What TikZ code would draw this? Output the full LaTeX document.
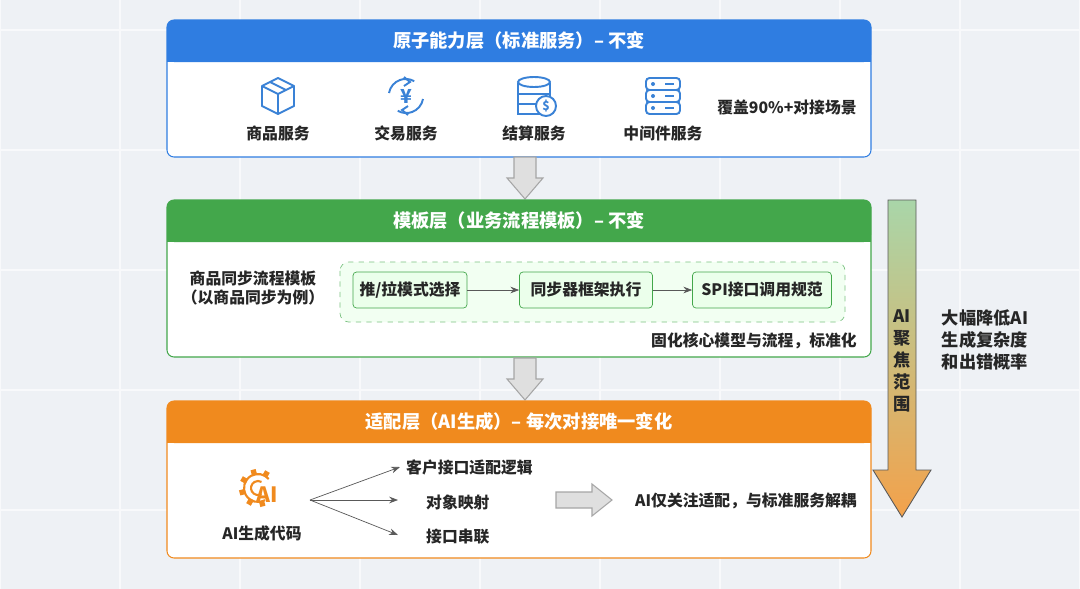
\documentclass[tikz,border=0pt]{standalone}
\usepackage{fontspec}
\setmainfont{Noto Sans CJK SC}
\usetikzlibrary{positioning}
\usetikzlibrary{arrows.meta}
\definecolor{bluehd}{HTML}{2F7DE1}
\definecolor{greenhd}{HTML}{43A74B}
\definecolor{orangehd}{HTML}{F08A1E}
\definecolor{bgcol}{HTML}{EEF1F5}
\definecolor{icon}{HTML}{3A82D6}
\tikzset{
  layer/.style={draw=#1, line width=0.6pt, fill=white, rounded corners=4pt},
  head/.style={text=white, font=\fontsize{10.4}{12}\selectfont\bfseries},
  txt/.style={font=\fontsize{9}{11}\selectfont\bfseries, text=black!85},
  step/.style={draw=greenhd, fill=green!8, rounded corners=2pt, minimum width=#1, minimum height=0.72cm, txt},
  hollow/.style={draw=gray!70, fill=gray!25, line width=0.6pt},
  ico/.style={icon, line width=1.1pt},
}
% down arrow between layers, centred at (#1,#2)
\newcommand{\gapArrow}[2]{\draw[hollow] (#1-11,#2-21) -- (#1+11,#2-21) -- (#1+11,#2) -- (#1+18,#2) -- (#1,#2+21) -- (#1-18,#2) -- (#1-11,#2) -- cycle;}
\begin{document}
\begin{tikzpicture}[x=0.02cm, y=-0.02cm]
\useasboundingbox (0,0) rectangle (1080,589);
\fill[bgcol] (0,0) rectangle (1080,589);
\foreach \gx in {0,120,...,1080} {\draw[white!60!bgcol, line width=0.6pt] (\gx,0) -- (\gx,589);}
\foreach \gy in {30,150,...,589} {\draw[white!60!bgcol, line width=0.6pt] (0,\gy) -- (1080,\gy);}

% atomic layer
\fill[layer=bluehd] (167,20) rectangle (871,157);
\fill[bluehd, rounded corners=4pt] (167,20) rectangle (871,62);
\fill[bluehd] (167,50) rectangle (871,62);
\node[head] (atomhd) at (519,41) {原子能力层（标准服务）– 不变};

% icons
\begin{scope}[shift={(278,96)}]
\draw[ico, line join=round] (-16,-10) -- (0,-18) -- (16,-10) -- (16,10) -- (0,18) -- (-16,10) -- cycle;
\draw[ico, line join=round] (-16,-10) -- (0,-2) -- (16,-10) (0,-2) -- (0,18) (-8,-14) -- (8,-6);
\end{scope}
\begin{scope}[shift={(406,96)}]
\draw[ico] (-17,-3) arc (-170:-60:17);
\draw[ico] (17,3) arc (10:120:17);
\draw[ico] (-2,-19) -- (4,-14) -- (-2,-10);
\draw[ico] (2,19) -- (-4,14) -- (2,10);
\node[text=icon, font=\fontsize{11}{11}\selectfont\bfseries] at (0,0) {¥};
\end{scope}
\begin{scope}[shift={(534,96)}]
\foreach \dy in {-12,-2,8} {\draw[ico, fill=white] (-16,\dy) rectangle (16,\dy+10);}
\draw[ico, fill=white] (0,-14) ellipse (16 and 5);
\draw[ico, fill=white] (12,10) circle (10);
\node[text=icon, font=\fontsize{7}{7}\selectfont\bfseries] at (12,10) {\$};
\end{scope}
\begin{scope}[shift={(663,96)}]
\foreach \dy in {-18,-6,6} {
  \draw[ico, rounded corners=2pt] (-17,\dy) rectangle (17,\dy+12);
  \fill[icon] (-10,\dy+6) circle (2);
  \draw[ico] (2,\dy+6) -- (11,\dy+6);
}
\end{scope}

% nodes
\node[txt] (goods) at (278,133) {商品服务};
\node[txt] (trade) at (406,133) {交易服务};
\node[txt] (settle) at (534,133) {结算服务};
\node[txt] (middle) at (663,133) {中间件服务};
\node[txt] (cover) at (787,107) {覆盖90\%+对接场景};

% template layer
\gapArrow{525}{178}
\fill[layer=greenhd] (167,200) rectangle (871,357);
\fill[greenhd, rounded corners=4pt] (167,200) rectangle (871,242);
\fill[greenhd] (167,230) rectangle (871,242);
\node[head] (tplhd) at (519,221) {模板层（业务流程模板）– 不变};
\draw[greenhd!70, dashed, fill=green!5, rounded corners=5pt] (340,262) rectangle (845,322);
\node[txt, align=center] (sync) at (253,288) {商品同步流程模板\\（以商品同步为例）};
\node[step=2.28cm] (pull) at (410,290) {推/拉模式选择};
\node[step=2.66cm] (exec) at (586,290) {同步器框架执行};
\node[step=2.78cm] (spi) at (762,290) {SPI接口调用规范};
\draw[-{Stealth[length=5pt]}, gray!70!black] (pull) -- (exec);
\draw[-{Stealth[length=5pt]}, gray!70!black] (exec) -- (spi);
\node[txt] (solid) at (754,341) {固化核心模型与流程，标准化};

% adapter layer
\gapArrow{525}{379}
\fill[layer=orangehd] (167,401) rectangle (871,558);
\fill[orangehd, rounded corners=4pt] (167,401) rectangle (871,443);
\fill[orangehd] (167,431) rectangle (871,443);
\node[head] (adphd) at (519,422) {适配层（AI生成）– 每次对接唯一变化};

% gear
\begin{scope}[shift={(258,488)}, orangehd, line width=1.2pt]
\draw (60:14) arc (60:320:14);
\foreach \a in {75,120,165,210,255,300} {\draw[line width=3pt] (\a:13) -- (\a:19);}
\draw (60:7) arc (60:300:7);
\node[text=orangehd, font=\fontsize{12}{12}\selectfont\bfseries] at (9,7) {AI};
\end{scope}
\node[txt] (aicode) at (262,533) {AI生成代码};
\coordinate (fork) at (310,500);
\node[txt, anchor=west] (cust) at (400,467) {客户接口适配逻辑};
\node[txt, anchor=west] (objmap) at (420,502) {对象映射};
\node[txt, anchor=west] (chain) at (420,537) {接口串联};
\coordinate (tipB) at (398,500);
\coordinate (tipC) at (398,535);
\draw[-{Stealth[length=5pt]}, gray!70!black] (fork) -- (cust.west);
\draw[-{Stealth[length=5pt]}, gray!70!black] (fork) -- (tipB);
\draw[-{Stealth[length=5pt]}, gray!70!black] (fork) -- (tipC);
\draw[hollow] (556,492) -- (592,492) -- (592,484) -- (612,500) -- (592,516) -- (592,508) -- (556,508) -- cycle;
\node[txt] (focus) at (746,501) {AI仅关注适配，与标准服务解耦};

% big focus arrow
\shade[top color=green!35!gray!50, bottom color=orangehd!80] (888,200) -- (916,200) -- (916,470) -- (931,470) -- (902,517) -- (873,470) -- (888,470) -- cycle;
\draw[gray!70!black, line width=0.5pt] (888,200) -- (916,200) -- (916,470) -- (931,470) -- (902,517) -- (873,470) -- (888,470) -- cycle;
\node[txt, align=center, font=\fontsize{9.8}{12.5}\selectfont\bfseries] (scope) at (902,361) {AI\\聚\\焦\\范\\围};
\node[txt, align=center, font=\fontsize{9.8}{12.3}\selectfont\bfseries] (reduce) at (985,340) {大幅降低AI\\生成复杂度\\和出错概率};
\end{tikzpicture}
\end{document}
